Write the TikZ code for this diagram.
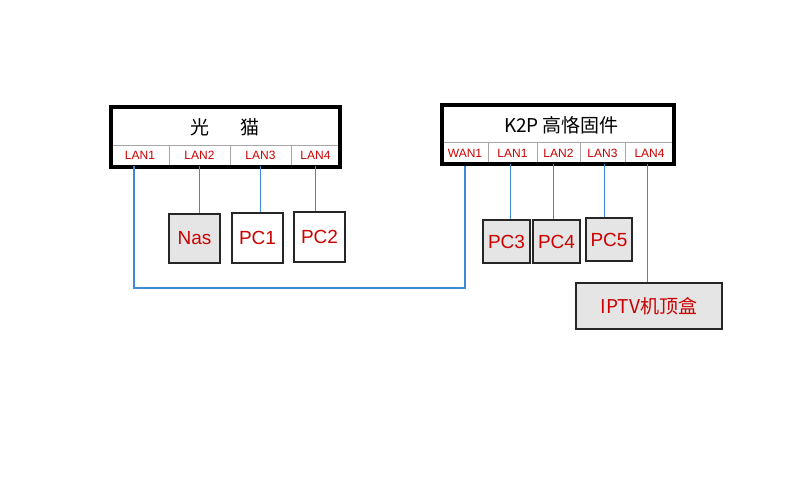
\documentclass[tikz,border=0pt]{standalone}
\usepackage{fontspec}
\setmainfont{Liberation Sans}
\newfontfamily\cjk{Noto Sans CJK SC}
\begin{document}
\begin{tikzpicture}[x=1pt,y=-1pt,
  dev/.style={draw=black,line width=4pt,rectangle,inner sep=0pt},
  cell/.style={draw=gray!70,line width=0.8pt,rectangle,inner sep=0pt,minimum height=21pt,text=red!80!black,font=\fontsize{12}{12}\selectfont},
  pcbox/.style={draw=black!85,line width=1.6pt,rectangle,inner sep=0pt,text=red!80!black,font=\fontsize{19}{19}\selectfont},
  link/.style={draw={rgb,255:red,60;green,138;blue,214},line width=1.1pt},
  title/.style={font=\cjk\fontsize{19}{19}\selectfont,text=black}
]
\useasboundingbox (0,0) rectangle (800,500);
% ---- modem ----
\node[cell,minimum width=58pt] (mlan1) at (140,155.5) {LAN1};
\node[cell,minimum width=61pt] (mlan2) at (199.5,155.5) {LAN2};
\node[cell,minimum width=61pt] (mlan3) at (260.5,155.5) {LAN3};
\node[cell,minimum width=49pt] (mlan4) at (315.5,155.5) {LAN4};
\node[dev,minimum width=229pt,minimum height=60pt] (modem) at (225.5,137) {};
\node[title] (modemt) at (225,127) {光\hspace{1.6em}猫};
% ---- K2P ----
\node[cell,minimum width=46pt] (wan1) at (465,153) {WAN1};
\node[cell,minimum width=49pt] (klan1) at (512.5,153) {LAN1};
\node[cell,minimum width=43pt] (klan2) at (558.5,153) {LAN2};
\node[cell,minimum width=45pt] (klan3) at (602.5,153) {LAN3};
\node[cell,minimum width=49pt] (klan4) at (649.5,153) {LAN4};
\node[dev,minimum width=232pt,minimum height=59pt] (k2p) at (558,134.5) {};
\node[title] (k2pt) at (561,125) {K2P\,高恪固件};
% ---- end devices ----
\node[pcbox,fill=gray!20,minimum width=51pt,minimum height=49pt] (nas) at (194.5,238.5) {Nas};
\node[pcbox,fill=white,minimum width=51pt,minimum height=50pt] (pc1) at (257.5,238) {PC1};
\node[pcbox,fill=white,minimum width=51pt,minimum height=50pt] (pc2) at (319.5,237) {PC2};
\node[pcbox,fill=gray!20,minimum width=47pt,minimum height=43pt,line width=1.2pt] (pc3) at (506.5,241.5) {PC3};
\node[pcbox,fill=gray!20,minimum width=47pt,minimum height=43pt,line width=1.2pt] (pc4) at (556.5,241.5) {PC4};
\node[pcbox,fill=gray!20,minimum width=46pt,minimum height=43pt,line width=1.2pt] (pc5) at (609,239.5) {PC5};
\node[pcbox,fill=gray!20,minimum width=146pt,minimum height=46pt,line width=1.2pt,font=\cjk\fontsize{19}{19}\selectfont] (iptv) at (649,306) {IPTV机顶盒};
% ---- connectors ----
\coordinate (bend) at (0,288);
\draw[link] ([xshift=-6pt]mlan1.south) |- (bend -| wan1.south) -- ([yshift=-2pt]wan1.south);
\draw[link] (mlan2.south) -- (mlan2.south |- nas.north);
\draw[link] (mlan3.south) -- (mlan3.south |- pc1.north);
\draw[link] (mlan4.south) -- (mlan4.south |- pc2.north);
\draw[link] ([xshift=-2pt]klan1.south) -- ([xshift=-2pt]klan1.south |- pc3.north);
\draw[link] ([xshift=-5pt]klan2.south) -- ([xshift=-5pt]klan2.south |- pc4.north);
\draw[link] ([xshift=2pt]klan3.south) -- ([xshift=2pt]klan3.south |- pc5.north);
\draw[link] ([xshift=-2pt]klan4.south) -- ([xshift=-2pt]klan4.south |- iptv.north);
\end{tikzpicture}
\end{document}
